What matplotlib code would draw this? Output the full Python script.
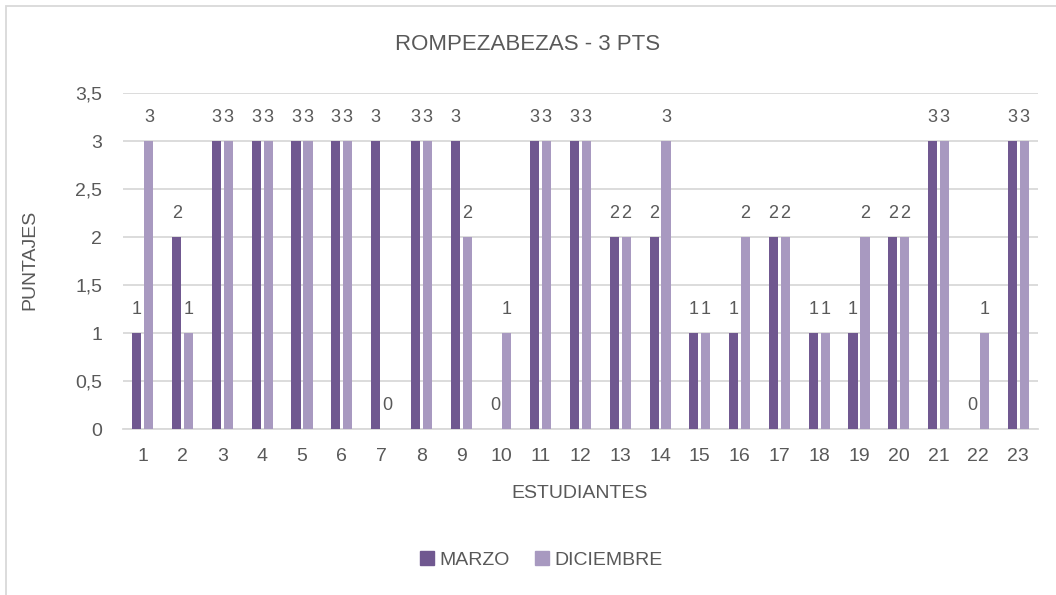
import matplotlib
matplotlib.use("Agg")
import matplotlib.pyplot as plt
import numpy as np
from matplotlib.patches import Rectangle
from matplotlib.lines import Line2D

plt.rcParams['font.family'] = ['Liberation Sans Narrow', 'Liberation Sans', 'DejaVu Sans']

students = [str(i) for i in range(1, 24)]
marzo = [1, 2, 3, 3, 3, 3, 3, 3, 3, 0, 3, 3, 2, 2, 1, 1, 2, 1, 1, 2, 3, 0, 3]
diciembre = [3, 1, 3, 3, 3, 3, 0, 3, 2, 1, 3, 3, 2, 3, 1, 2, 2, 1, 2, 2, 3, 1, 3]
yticks = [0, 0.5, 1, 1.5, 2, 2.5, 3, 3.5]
ytick_labels = ['0', '0,5', '1', '1,5', '2', '2,5', '3', '3,5']

c_mar = '#705890'
c_dic = '#a899c0'
txt = '#595959'
grid = '#d9d9d9'

fig = plt.figure(figsize=(10.56, 5.95), dpi=100)
ax = fig.add_axes([123/1056, 1-429/595, 915/1056, 336/595])

x = np.arange(len(students))
w = 0.23
off = 0.15
b1 = ax.bar(x - off, marzo, w, color=c_mar, label='MARZO', zorder=3)
b2 = ax.bar(x + off, diciembre, w, color=c_dic, label='DICIEMBRE', zorder=3)

for bars, vals in ((b1, marzo), (b2, diciembre)):
    for r, v in zip(bars, vals):
        ax.annotate(str(v), (r.get_x() + r.get_width()/2, v), xytext=(0, 17),
                    textcoords='offset points', ha='center', va='center',
                    fontsize=13, color=txt)

ax.set_xlim(-0.5, len(students) - 0.5)
ax.set_ylim(0, 3.5)
ax.set_yticks(yticks)
ax.set_yticklabels(ytick_labels)
ax.set_xticks(x)
ax.set_xticklabels(students)
ax.tick_params(axis='both', length=0, labelsize=14, colors=txt)
ax.tick_params(axis='y', pad=15)
ax.tick_params(axis='x', pad=14)
ax.yaxis.grid(True, color=grid, linewidth=1.3, zorder=0)
for s in ('top', 'right', 'left'):
    ax.spines[s].set_visible(False)
ax.spines['bottom'].set_color(grid)
ax.spines['bottom'].set_linewidth(1.3)

fig.text(528/1056, 1-45/595, 'ROMPEZABEZAS - 3 PTS', ha='center', va='center',
         fontsize=16, color=txt)
fig.text(30/1056, 1-260/595, 'PUNTAJES', ha='center', va='center', rotation=90,
         fontsize=14, color=txt)
fig.text(580/1056, 1-493/595, 'ESTUDIANTES', ha='center', va='center',
         fontsize=14, color=txt)

handles = [Line2D([], [], marker='s', linestyle='none', markersize=10, color=c_mar),
           Line2D([], [], marker='s', linestyle='none', markersize=10, color=c_dic)]
fig.legend(handles, ['MARZO', 'DICIEMBRE'], loc='center', bbox_to_anchor=(540/1056, 1-560/595),
           ncol=2, frameon=False, fontsize=14, labelcolor=txt, handletextpad=0.1,
           columnspacing=1.2, handlelength=1.0)

fig.add_artist(Rectangle((5.5/1056, -0.05), 1.2, 1 - 5.5/595 + 0.05, transform=fig.transFigure,
                         fill=False, edgecolor='#d9d9d9', linewidth=1.3))

fig.savefig('out.png', dpi=100)
